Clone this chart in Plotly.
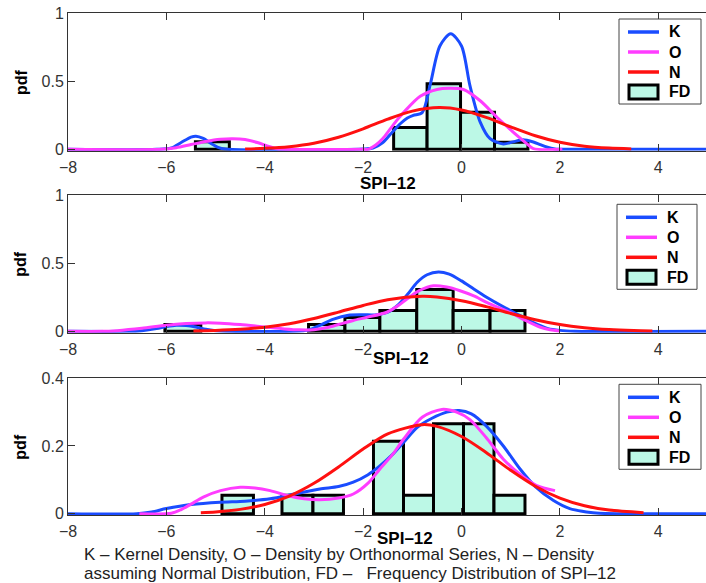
import plotly.graph_objects as go

# ---------------- data ----------------
x_ticks = [-8, -6, -4, -2, 0, 2, 4]

# Panel 1
fd1_left = [-5.41, -1.38, -0.70, -0.02, 0.67]
fd1_right = [-4.72, -0.70, -0.02, 0.67, 1.35]
fd1_h = [0.055, 0.16, 0.483, 0.272, 0.052]
k1_x = [-8, -6.2, -5.9, -5.7, -5.5, -5.4, -5.25, -5.1, -4.95, -4.8, -2.0, -1.8, -1.6, -1.4, -1.24, -1.1, -0.98, -0.8,
        -0.64, -0.44, -0.22, 0.0, 0.17, 0.38, 0.58, 0.85, 1.05, 1.25, 1.46, 1.6, 1.73, 1.9, 2.2, 5.0]
k1_y = [0, 0, 0.01, 0.05, 0.09, 0.097, 0.08, 0.045, 0.015, 0.002, 0.002, 0.01, 0.05, 0.13, 0.19, 0.23, 0.25, 0.27,
        0.47, 0.76, 0.85, 0.76, 0.47, 0.2, 0.078, 0.04, 0.055, 0.07, 0.054, 0.035, 0.017, 0.003, 0, 0]
o1_x = [-8, -6.1, -5.8, -5.5, -5.2, -4.9, -4.65, -4.4, -4.15, -3.95, -3.8, -3.6, -2.0, -1.9, -1.75, -1.6, -1.45, -1.3,
        -1.18, -0.84, -0.5, -0.25, 0.04, 0.38, 0.72, 1.05, 1.2, 1.33, 1.46, 2.05]
o1_y = [0, 0, 0.012, 0.035, 0.058, 0.074, 0.078, 0.072, 0.05, 0.025, 0.008, 0, 0, 0.0, 0.03, 0.08, 0.15, 0.22,
        0.27, 0.39, 0.44, 0.449, 0.44, 0.357, 0.236, 0.127, 0.08, 0.04, 0.005, 0]
n1_x = [-4.4, -4.0, -3.5, -3.0, -2.5, -2.0, -1.5, -1.0, -0.45, 0.0, 0.5, 1.0, 1.5, 2.0, 2.5, 3.0, 3.45]
n1_y = [0.003, 0.0074, 0.0196, 0.045, 0.089, 0.151, 0.222, 0.281, 0.307, 0.289, 0.235, 0.165, 0.10, 0.052, 0.023,
        0.009, 0.0034]

# Panel 2
fd2_left = [-6.03, -3.11, -2.37, -1.66, -0.91, -0.17, 0.58]
fd2_right = [-5.30, -2.37, -1.66, -0.91, -0.17, 0.58, 1.29]
fd2_h = [0.051, 0.051, 0.102, 0.153, 0.306, 0.153, 0.153]
k2_x = [-8, -6.8, -6.5, -6.2, -6.0, -5.8, -5.6, -5.4, -5.2, -5.0, -4.8, -3.4, -3.2, -3.08, -2.88, -2.6, -2.3, -2.0,
        -1.72, -1.5, -1.3, -1.1, -0.9, -0.7, -0.47, -0.25, 0.0, 0.25, 0.51, 0.85, 1.19, 1.45, 1.76, 2.0, 2.3, 5.0]
k2_y = [0, 0, 0.005, 0.02, 0.035, 0.045, 0.043, 0.032, 0.015, 0.005, 0.001, 0.001, 0.005, 0.012, 0.044, 0.09, 0.118,
        0.121, 0.122, 0.14, 0.19, 0.27, 0.36, 0.415, 0.436, 0.42, 0.37, 0.31, 0.25, 0.18, 0.116, 0.065, 0.02, 0.007,
        0.001, 0]
o2_x = [-8, -7.3, -7.0, -6.5, -6.0, -5.6, -5.2, -4.9, -4.5, -4.0, -3.6, -3.3, -3.0, -2.7, -2.4, -2.2, -1.9, -1.52,
        -1.3, -1.11, -0.85, -0.57, -0.3, -0.03, 0.25, 0.51, 0.78, 1.05, 1.3, 1.59, 1.8, 2.0]
o2_y = [0, 0, 0.005, 0.022, 0.045, 0.057, 0.062, 0.06, 0.05, 0.032, 0.018, 0.011, 0.012, 0.03, 0.06, 0.08, 0.105,
        0.14, 0.185, 0.237, 0.3, 0.334, 0.325, 0.298, 0.26, 0.213, 0.17, 0.128, 0.08, 0.032, 0.012, 0.003]
n2_x = [-5.45, -5.0, -4.5, -4.0, -3.5, -3.0, -2.5, -2.0, -1.5, -0.8, -0.5, 0.0, 0.5, 1.0, 1.5, 2.0, 2.5, 3.0, 3.5,
        3.88]
n2_y = [0.0029, 0.0066, 0.0149, 0.0305, 0.056, 0.094, 0.141, 0.19, 0.232, 0.257, 0.252, 0.225, 0.181, 0.131, 0.0855,
        0.05, 0.0267, 0.0127, 0.0055, 0.0027]

# Panel 3
fd3_left = [-4.87, -3.65, -3.02, -1.79, -1.18, -0.57, 0.04, 0.66]
fd3_right = [-4.23, -3.02, -2.40, -1.18, -0.57, 0.04, 0.66, 1.29]
fd3_h = [0.054, 0.054, 0.054, 0.214, 0.054, 0.266, 0.266, 0.054]
k3_x = [-8, -6.6, -6.3, -6.0, -5.5, -4.91, -4.4, -3.89, -3.4, -2.88, -2.5, -2.2, -1.9, -1.66, -1.4, -1.18, -0.9,
        -0.6, -0.3, -0.05, 0.2, 0.51, 0.85, 1.19, 1.5, 1.87, 2.2, 2.54, 2.8, 5.0]
k3_y = [0, 0, 0.005, 0.015, 0.027, 0.034, 0.037, 0.044, 0.058, 0.073, 0.08, 0.093, 0.115, 0.141, 0.175, 0.21, 0.255,
        0.282, 0.3, 0.305, 0.295, 0.258, 0.2, 0.132, 0.08, 0.039, 0.015, 0.005, 0.001, 0]
o3_x = [-6.55, -5.9, -5.7, -5.5, -5.25, -4.9, -4.5, -4.2, -3.89, -3.5, -3.2, -2.88, -2.5, -2.2, -1.9, -1.66, -1.4,
        -1.18, -0.8, -0.4, -0.1, 0.17, 0.5, 0.85, 1.2, 1.53, 1.9]
o3_y = [0, 0.001, 0.012, 0.028, 0.049, 0.068, 0.078, 0.076, 0.068, 0.052, 0.044, 0.041, 0.046, 0.058, 0.09, 0.132,
        0.175, 0.22, 0.285, 0.308, 0.3, 0.278, 0.225, 0.161, 0.115, 0.083, 0.068]
n3_x = [-5.3, -5.0, -4.5, -4.0, -3.5, -3.0, -2.5, -2.0, -1.5, -0.8, -0.5, 0.0, 0.5, 1.0, 1.5, 2.0, 2.5, 3.0, 3.7]
n3_y = [0.003, 0.0052, 0.0126, 0.027, 0.052, 0.0897, 0.138, 0.191, 0.236, 0.263, 0.258, 0.228, 0.181, 0.128, 0.081,
        0.046, 0.0234, 0.0106, 0.003]

legend_names = ["K", "O", "N", "FD"]
caption1 = "K – Kernel Density, O – Density by Orthonormal Series, N – Density"
caption2 = "assuming Normal Distribution, FD –   Frequency Distribution of SPI–12"
x_title = "SPI–12"
y_title = "pdf"

# ---------------- styling / layout helpers ----------------
W, H, L = 706, 583, 68
FONT = "Liberation Sans, Arial, Helvetica, sans-serif"
BLUE = "#1a4cff"
MAG = "#ff3cff"
RED = "#ff1010"
FILL = "#bcf8e6"
AXC = "#333333"


def px_x(p):
    return (p - L) / (W - L)


def px_y(p):
    return 1 - p / H


panels = [
    dict(fd=(fd1_left, fd1_right, fd1_h), k=(k1_x, k1_y), o=(o1_x, o1_y), n=(n1_x, n1_y),
         ypix=(13.3, 150.7), yr=[-0.01, 1], yt=[0, 0.5, 1], ytt=["0", "0.5", "1"],
         leg=(619, 701, 19), xt_pos=(-1.49, 184)),
    dict(fd=(fd2_left, fd2_right, fd2_h), k=(k2_x, k2_y), o=(o2_x, o2_y), n=(n2_x, n2_y),
         ypix=(195, 332.7), yr=[-0.01, 1], yt=[0, 0.5, 1], ytt=["0", "0.5", "1"],
         leg=(617, 697, 204.3), xt_pos=(-1.23, 358)),
    dict(fd=(fd3_left, fd3_right, fd3_h), k=(k3_x, k3_y), o=(o3_x, o3_y), n=(n3_x, n3_y),
         ypix=(378.3, 515), yr=[-0.004, 0.4], yt=[0, 0.2, 0.4], ytt=["0", "0.2", "0.4"],
         leg=(619, 701, 384.3), xt_pos=(-1.15, 538)),
]

fig = go.Figure()
layout = dict(
    width=W, height=H,
    margin=dict(l=L, r=0, t=0, b=0, autoexpand=False),
    paper_bgcolor="white", plot_bgcolor="white",
    font=dict(family=FONT, size=16, color=AXC),
    barmode="overlay", showlegend=False,
    annotations=[], shapes=[],
)
bold = dict(family=FONT, size=16, color="black", weight="bold")

for i, p in enumerate(panels):
    n = i + 1
    xa = "x" if n == 1 else f"x{n}"
    ya = "y" if n == 1 else f"y{n}"
    left, right, h = p["fd"]
    centers = [(a + b) / 2 for a, b in zip(left, right)]
    widths = [b - a for a, b in zip(left, right)]
    fig.add_trace(go.Bar(x=centers, y=h, width=widths, name=legend_names[3], xaxis=xa, yaxis=ya,
                         marker=dict(color=FILL, line=dict(color="black", width=3))))
    for (xs, ys), col, nm in [(p["k"], BLUE, legend_names[0]), (p["o"], MAG, legend_names[1]),
                              (p["n"], RED, legend_names[2])]:
        fig.add_trace(go.Scatter(x=xs, y=ys, mode="lines", name=nm, xaxis=xa, yaxis=ya,
                                 line=dict(color=col, width=3, shape="spline", smoothing=0.8)))
    xkey = "xaxis" if n == 1 else f"xaxis{n}"
    ykey = "yaxis" if n == 1 else f"yaxis{n}"
    ytop, ybot = p["ypix"]
    layout[xkey] = dict(domain=[0, 1], anchor=ya, range=[-8, 4.97], tickvals=x_ticks, automargin=False,
                        ticks="inside", ticklen=7, tickcolor=AXC, showline=True, linecolor=AXC, linewidth=1,
                        mirror="ticks", showgrid=False, zeroline=False,
                        tickfont=dict(size=16, color=AXC, family=FONT), ticklabelstandoff=2)
    layout[ykey] = dict(domain=[px_y(ybot), px_y(ytop)], anchor=xa, range=p["yr"], tickvals=p["yt"],
                        ticktext=p["ytt"], automargin=False,
                        ticks="inside", ticklen=7, tickcolor=AXC, showline=True, linecolor=AXC, linewidth=1,
                        showgrid=False, zeroline=False,
                        tickfont=dict(size=16, color=AXC, family=FONT), ticklabelstandoff=0)
    # axis titles
    layout["annotations"].append(dict(text=y_title, xref="paper", yref="paper", x=px_x(21),
                                      y=px_y((ytop + ybot) / 2), textangle=-90, showarrow=False,
                                      font=bold, xanchor="center", yanchor="middle"))
    layout["annotations"].append(dict(text=x_title, xref=xa, yref="paper", x=p["xt_pos"][0],
                                      y=px_y(p["xt_pos"][1]), showarrow=False, xanchor="center",
                                      yanchor="middle", font=dict(bold, size=17)))
    # legend box
    lx0, lx1, lt = p["leg"]
    layout["shapes"].append(dict(type="rect", xref="paper", yref="paper", x0=px_x(lx0), x1=px_x(lx1),
                                 y0=px_y(lt + 85), y1=px_y(lt), line=dict(color="#444444", width=1),
                                 fillcolor="white", layer="above"))
    sx0, sx1 = lx0 + 9, lx0 + 40
    for j, (nm, col) in enumerate(zip(legend_names, [BLUE, MAG, RED, None])):
        cy = lt + 13 + 20 * j
        if col is not None:
            layout["shapes"].append(dict(type="line", xref="paper", yref="paper", x0=px_x(sx0), x1=px_x(sx1),
                                         y0=px_y(cy), y1=px_y(cy), line=dict(color=col, width=3.5),
                                         layer="above"))
        else:
            layout["shapes"].append(dict(type="rect", xref="paper", yref="paper", x0=px_x(sx0 + 1),
                                         x1=px_x(sx1 - 1), y0=px_y(cy + 7), y1=px_y(cy - 7),
                                         line=dict(color="black", width=3), fillcolor=FILL, layer="above"))
        layout["annotations"].append(dict(text=nm, xref="paper", yref="paper", x=px_x(lx0 + 48),
                                          y=px_y(cy), xanchor="left", yanchor="middle", showarrow=False,
                                          font=bold))

layout["annotations"].append(dict(text=caption1, xref="paper", yref="paper", x=px_x(82), y=px_y(554),
                                  xanchor="left", yanchor="middle", showarrow=False,
                                  font=dict(family=FONT, size=17, color="#222222")))
layout["annotations"].append(dict(text=caption2, xref="paper", yref="paper", x=px_x(82), y=px_y(573.5),
                                  xanchor="left", yanchor="middle", showarrow=False,
                                  font=dict(family=FONT, size=17, color="#222222")))

fig.update_layout(**layout)
fig.write_html("out.html", config={"displayModeBar": False},
               post_script="document.body.style.margin='0px';")
